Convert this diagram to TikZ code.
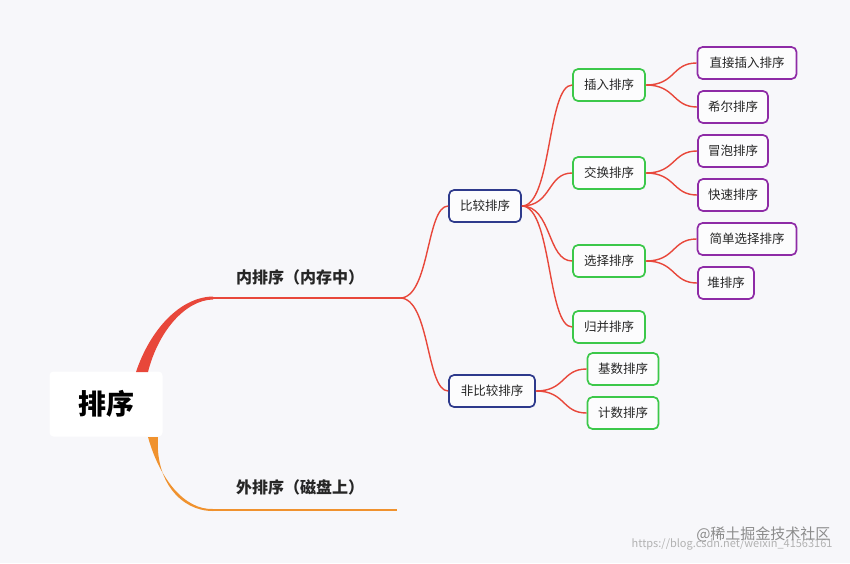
\documentclass[tikz,border=0pt]{standalone}
\usepackage{fontspec}
\setmainfont{Noto Sans CJK SC}
\begin{document}
\begin{tikzpicture}[x=1pt,y=-1pt,
 box/.style={draw,rounded corners=5pt,line width=1.7pt,fill=white!60!bgc,minimum height=32pt,inner xsep=6pt,font=\fontsize{12.5}{12.5}\selectfont,text=black!85},
 lvA/.style={box,draw=navy},
 lvB/.style={box,draw=grn},
 lvC/.style={box,draw=purp},
 br/.style={draw=redc,line width=1.4pt},
 lbl/.style={font=\fontsize{16}{16}\selectfont\bfseries,text=black!85}]
\definecolor{bgc}{HTML}{F7F7FA}
\definecolor{navy}{HTML}{2E3A8C}
\definecolor{grn}{HTML}{3CC84A}
\definecolor{purp}{HTML}{8E2BA6}
\definecolor{redc}{HTML}{E8473A}
\definecolor{orc}{HTML}{F0922E}
\fill[bgc] (0,0) rectangle (850,563);
\useasboundingbox (0,0) rectangle (850,563);
% root
\node[fill=white,rounded corners=4pt,minimum width=113pt,minimum height=65pt,font=\fontsize{28}{28}\selectfont\bfseries] (root) at (106,404) {排序};
\coordinate (n1) at (213,298); \coordinate (n1e) at (400,298);
\coordinate (n2) at (213,510); \coordinate (n2e) at (397,510);
\fill[redc] (136,372) .. controls (150,330) and (180,297) .. (213,296.5) -- (213,299.5) .. controls (185,300) and (158,332) .. (148,372) -- cycle;
\draw[redc,line width=2.5pt] (n1) -- (n1e);
\fill[orc] (148,437) .. controls (160,480) and (185,510) .. (213,509) -- (213,511) .. controls (180,511) and (155,480) .. (158,437) -- cycle;
\draw[orc,line width=1.6pt] (n2) -- (n2e);
\node[lbl] (t1) at (300,277) {内排序（内存中）};
\node[lbl] (t2) at (300,487) {外排序（磁盘上）};
% level A
\node[lvA,minimum width=72pt] (a1) at (485,206) {比较排序};
\node[lvA,minimum width=86pt] (a2) at (492,391) {非比较排序};
% level B
\node[lvB,minimum width=72pt] (b1) at (609,85) {插入排序};
\node[lvB,minimum width=72pt] (b2) at (609,173) {交换排序};
\node[lvB,minimum width=72pt] (b3) at (609,261) {选择排序};
\node[lvB,minimum width=72pt] (b4) at (609,327) {归并排序};
\node[lvB,minimum width=71pt] (b5) at (623,369) {基数排序};
\node[lvB,minimum width=71pt] (b6) at (623,413) {计数排序};
% level C
\node[lvC,minimum width=99pt] (c1) at (747,63) {直接插入排序};
\node[lvC,minimum width=70pt] (c2) at (733,107) {希尔排序};
\node[lvC,minimum width=70pt] (c3) at (733,151) {冒泡排序};
\node[lvC,minimum width=70pt] (c4) at (733,195) {快速排序};
\node[lvC,minimum width=99pt] (c5) at (747,239) {简单选择排序};
\node[lvC,minimum width=56pt] (c6) at (726,283) {堆排序};
% connectors
\foreach \t in {a1,a2}
  \draw[br] (n1e) .. controls +(30,0) and +(-22,0) .. (\t.west);
\foreach \t in {b1,b2,b3,b4}
  \draw[br] (a1.east) .. controls +(30,0) and +(-25,0) .. (\t.west);
\foreach \t in {b5,b6}
  \draw[br] (a2.east) .. controls +(30,0) and +(-25,0) .. (\t.west);
\draw[br] (b1.east) .. controls +(30,0) and +(-25,0) .. (c1.west);
\draw[br] (b1.east) .. controls +(30,0) and +(-25,0) .. (c2.west);
\draw[br] (b2.east) .. controls +(30,0) and +(-25,0) .. (c3.west);
\draw[br] (b2.east) .. controls +(30,0) and +(-25,0) .. (c4.west);
\draw[br] (b3.east) .. controls +(30,0) and +(-25,0) .. (c5.west);
\draw[br] (b3.east) .. controls +(30,0) and +(-25,0) .. (c6.west);
% watermark
\node[text=black!30,font=\fontsize{11}{11}\selectfont,anchor=east] (wm1) at (836,544) {https://blog.csdn.net/weixin\_41563161};
\node[text=black!45,font=\fontsize{15}{15}\selectfont,anchor=east] (wm2) at (834,534) {@稀土掘金技术社区};
\end{tikzpicture}
\end{document}
